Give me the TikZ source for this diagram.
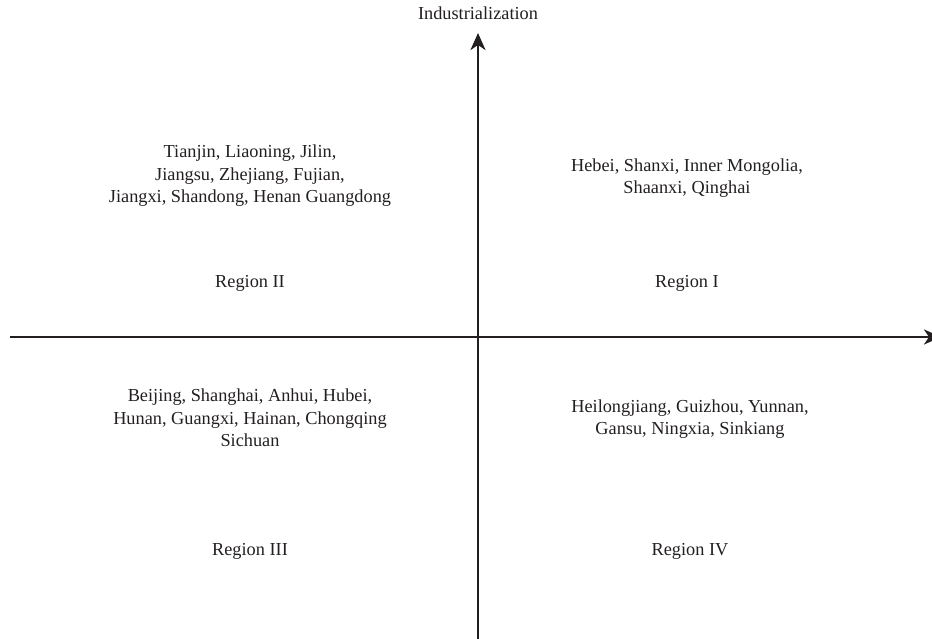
\documentclass[tikz,border=0pt]{standalone}
\usepackage{fontspec}
\setmainfont{Liberation Serif}
\usetikzlibrary{arrows.meta}
\definecolor{ink}{HTML}{231F20}
\tikzset{
  axis/.style={line width=2.7pt, draw=ink, -{Stealth[length=17pt,width=15pt,inset=5pt]}},
  lbl/.style={text=ink, font=\fontsize{18.3}{22.5}\selectfont, align=center, inner sep=0pt},
}
\begin{document}
\begin{tikzpicture}[x=1pt,y=-1pt]
\useasboundingbox (0,0) rectangle (932,639);
\coordinate (xs) at (10,337);
\coordinate (xe) at (941,337);
\coordinate (ys) at (478,639);
\coordinate (ye) at (478,33);
\draw[axis] (xs) -- (xe);
\draw[axis] (ys) -- (ye);
\node[lbl] (title) at (478,13) {Industrialization};
\node[lbl] (q2) at (250,176) {Tianjin, Liaoning, Jilin,\\Jiangsu, Zhejiang, Fujian,\\Jiangxi, Shandong, Henan Guangdong};
\node[lbl] (q1) at (687,178) {Hebei, Shanxi, Inner Mongolia,\\Shaanxi, Qinghai};
\node[lbl] (r2) at (250,283) {Region II};
\node[lbl] (r1) at (687,283) {Region I};
\node[lbl] (q3) at (250,418) {Beijing, Shanghai, Anhui, Hubei,\\Hunan, Guangxi, Hainan, Chongqing\\Sichuan};
\node[lbl] (q4) at (690,419) {Heilongjiang, Guizhou, Yunnan,\\Gansu, Ningxia, Sinkiang};
\node[lbl] (r3) at (250,551) {Region III};
\node[lbl] (r4) at (690,551) {Region IV};
\end{tikzpicture}
\end{document}
